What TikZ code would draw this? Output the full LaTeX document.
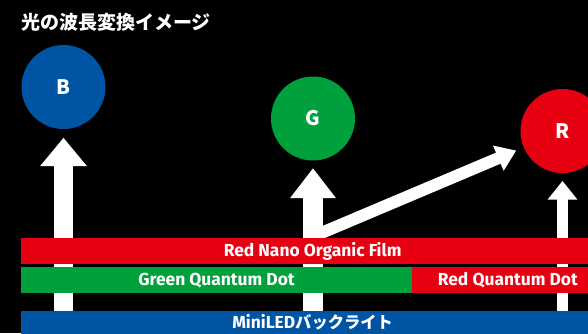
\documentclass[tikz,border=0pt]{standalone}
\usepackage{fontspec}
\setmainfont{Fira Sans}
\newfontfamily\jp{Noto Sans CJK JP}
\usetikzlibrary{arrows.meta}
\definecolor{lgblue}{RGB}{0,84,164}
\definecolor{lggreen}{RGB}{0,160,60}
\definecolor{lgred}{RGB}{230,0,18}
\tikzset{
  dot/.style={circle, fill=#1, minimum size=84pt, inner sep=0pt, text=white,
    font=\jp\bfseries\fontsize{20}{20}\selectfont, text height=14.7pt, text depth=0pt},
  bar/.style={fill=#1, inner sep=0pt, text=white, font=\bfseries\fontsize{17.4}{17}\selectfont,
    text height=12pt, text depth=0pt},
}
\begin{document}
\begin{tikzpicture}[x=1pt,y=-1pt]
\useasboundingbox (0,0) rectangle (588,333);
\fill[black] (0,0) rectangle (588,333);
\clip (0,0) rectangle (588,333);
% title
\node[anchor=west, inner sep=0pt, text=white, font=\jp\bfseries\fontsize{19}{19}\selectfont] (title) at (21,22.5) {光の波長変換イメージ};
% circles
\node[dot=lgblue] (B) at (63.5,87) {B};
\node[dot=lggreen] (G) at (313,118.5) {G};
\node[dot=lgred] (R) at (562.5,131) {R};
% arrow bases
\coordinate (bB) at (63.5,320);
\coordinate (bG) at (313,320);
\coordinate (bR) at (562.5,320);
\coordinate (gd) at (313,236.5);
% arrows (behind bars)
\draw[white, line width=19pt, -{Triangle[length=28.5pt,width=45pt]}, shorten >=8.5pt] (bB) -- (B);
\draw[white, line width=19.4pt, -{Triangle[length=30pt,width=44pt]}, shorten >=7.5pt] (bG) -- (G);
\draw[white, line width=11.6pt, -{Triangle[length=18.6pt,width=28.4pt]}, shorten >=7.7pt] (bR) -- (R);
\draw[white, line width=12pt, -{Triangle[length=19.5pt,width=26pt]}, shorten >=8pt] (gd) -- (R);
% bars
\node[bar=lgred, minimum width=582.7pt, minimum height=26.3pt] (film) at (312.65,250.85) {Red Nano Organic Film};
\node[bar=lggreen, minimum width=390.4pt, minimum height=25.7pt] (gqd) at (216.5,279.85) {Green Quantum Dot};
\node[bar=lgred, minimum width=192.3pt, minimum height=25.7pt] (rqd) at (507.85,279.85) {Red Quantum Dot};
\node[bar=lgblue, minimum width=582.7pt, minimum height=23pt] (led) at (312.65,322.5) {MiniLED{\jp\bfseries\fontsize{16.3}{16}\selectfont バックライト}};
\end{tikzpicture}
\end{document}
